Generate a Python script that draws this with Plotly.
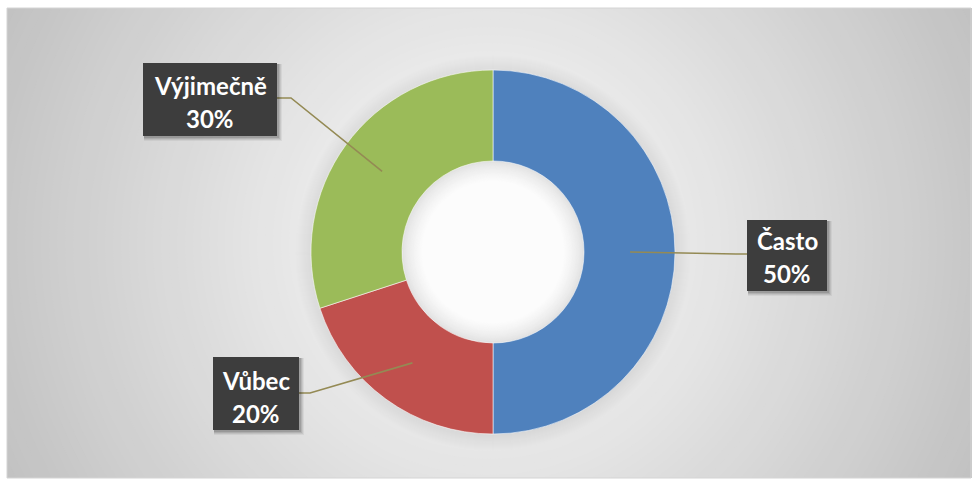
import math
import plotly.graph_objects as go

# Survey answers and their shares
categories = ["Často", "Vůbec", "Výjimečně"]
values = [50, 20, 30]
colors = ["#4F81BD", "#C0504D", "#9BBB59"]

W, H = 972, 486
CX, CY = 493, 252          # donut centre (px)
R_OUT, R_IN = 182, 91      # outer / inner radius (px)
LEADER_R = 0.753           # where leader lines touch the ring, fraction of R_OUT


def px(x):
    return x / W


def py(y):
    return 1 - y / H


def circle(cx, cy, r, **kw):
    return dict(type="circle", xref="paper", yref="paper",
                x0=px(cx - r), x1=px(cx + r), y0=py(cy + r), y1=py(cy - r),
                line=dict(width=0), **kw)


def rect(x0, y0, x1, y1, **kw):
    return dict(type="rect", xref="paper", yref="paper",
                x0=px(x0), x1=px(x1), y0=py(y1), y1=py(y0), **kw)


def polyline(points, **kw):
    path = "M " + " L ".join(f"{px(x):.5f},{py(y):.5f}" for x, y in points)
    return dict(type="path", xref="paper", yref="paper", path=path, **kw)


shapes = []

# radial grey background, white in the middle
BG_CX, BG_CY = 489, 243
for r in range(560, 0, -8):
    v = int(round(255 - 62 * min(r / 543, 1.05)))
    v = max(v, 190)
    shapes.append(circle(BG_CX, BG_CY, r, fillcolor=f"rgb({v},{v},{v})", layer="below"))

# white page margin around the chart area and its frame
shapes += [
    rect(0, 0, W, 8, fillcolor="white", line=dict(width=0), layer="below"),
    rect(0, 0, 7, H, fillcolor="white", line=dict(width=0), layer="below"),
    rect(0, 478, W, H, fillcolor="white", line=dict(width=0), layer="below"),
    rect(7, 8, W - 1, 478, fillcolor="rgba(0,0,0,0)", line=dict(color="#d4d4d4", width=1), layer="below"),
]

# soft shadow around the ring
for k in range(16, 0, -1):
    shapes.append(circle(CX, CY + 1, R_OUT + k, fillcolor="rgba(0,0,0,0.005)", layer="below"))

# inner shadow inside the hole
for k in range(0, 21):
    t = k / 20
    v = int(round(224 + (252 - 224) * (t ** 0.7)))
    shapes.append(circle(CX, CY, R_IN - k, fillcolor=f"rgb({v},{v},{v})", layer="below"))

fig = go.Figure()
fig.add_trace(go.Pie(
    labels=categories,
    values=values,
    marker=dict(colors=colors, line=dict(color="rgba(255,255,255,0.7)", width=0.8)),
    hole=R_IN / R_OUT,
    sort=False,
    direction="clockwise",
    rotation=0,
    textinfo="none",
    hoverinfo="skip",
    showlegend=False,
    domain=dict(x=[px(CX - R_OUT), px(CX + R_OUT)], y=[py(CY + R_OUT), py(CY - R_OUT)]),
))

# label boxes: (left, top, right, bottom), text centre x, first/second line centre y,
# and the elbow of the leader line
label_boxes = {
    "Často": dict(box=(747, 220, 827, 291), tx=787, ty=(240, 273), elbow=(736, 254), side="left"),
    "Vůbec": dict(box=(213, 357, 299, 430), tx=256, ty=(380, 413), elbow=(310, 393), side="right"),
    "Výjimečně": dict(box=(143, 63, 277, 136), tx=210, ty=(85, 118), elbow=(291, 98), side="right"),
}

total = sum(values)
annotations = []
cum = 0
for name, val in zip(categories, values):
    mid = (cum + val / 2) / total * 2 * math.pi
    cum += val
    sx = CX + LEADER_R * R_OUT * math.sin(mid)
    sy = CY - LEADER_R * R_OUT * math.cos(mid)
    spec = label_boxes[name]
    x0, y0, x1, y1 = spec["box"]
    ex, ey = spec["elbow"]
    bx = x0 if spec["side"] == "left" else x1
    shapes.append(polyline([(sx, sy), (ex, ey), (bx, ey)],
                           line=dict(color="#948A54", width=1.6), layer="above"))
    # box drop shadow
    for k, a in [(5, 0.05), (4, 0.07), (3, 0.09), (2, 0.12)]:
        shapes.append(rect(x0 + 1, y0 + 1, x1 + k, y1 + k,
                           fillcolor=f"rgba(0,0,0,{a})", line=dict(width=0), layer="above"))
    shapes.append(rect(x0, y0, x1, y1, fillcolor="#3d3d3d", line=dict(width=0), layer="above"))
    pct = f"{round(val / total * 100)}%"
    for text, ty in zip([name, pct], spec["ty"]):
        annotations.append(dict(
            x=px(spec["tx"]), y=py(ty), xref="paper", yref="paper",
            text=f"<b>{text}</b>", showarrow=False,
            xanchor="center", yanchor="middle",
            font=dict(family="Lato", size=24, color="white"),
        ))

fig.update_layout(
    width=W, height=H,
    margin=dict(l=0, r=0, t=0, b=0),
    paper_bgcolor="white",
    plot_bgcolor="white",
    shapes=shapes,
    annotations=annotations,
    showlegend=False,
)

fig.write_html("out.html", config=dict(displayModeBar=False))
